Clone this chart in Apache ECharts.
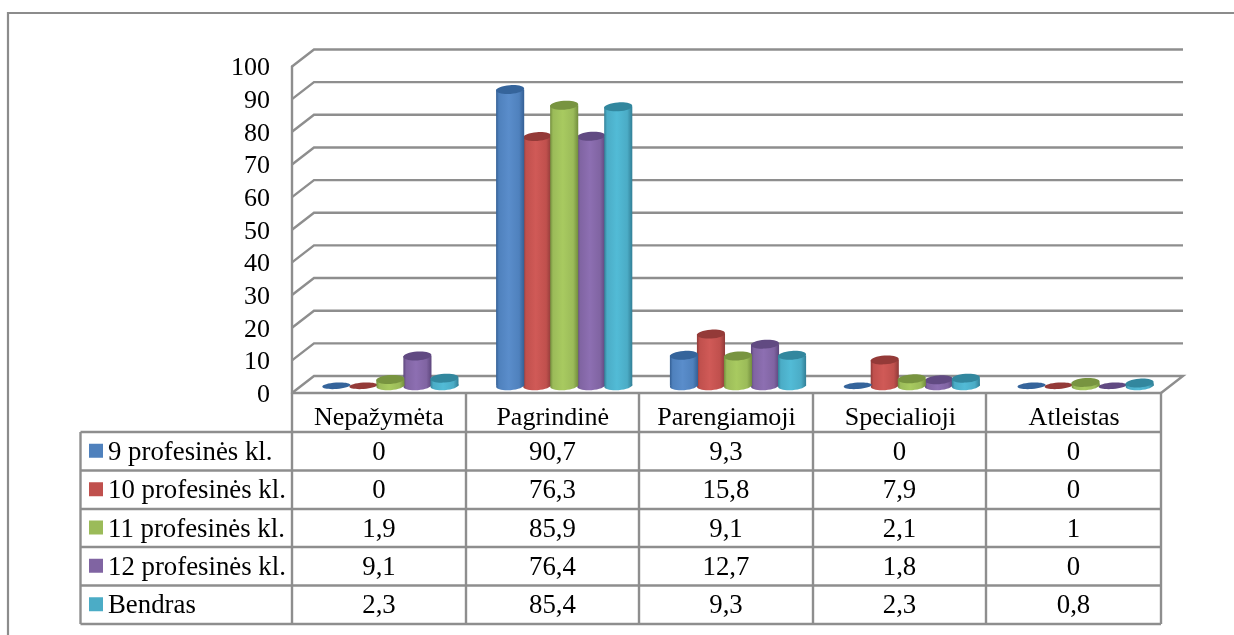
<!DOCTYPE html>
<html><head><meta charset="utf-8">
<style>html,body{margin:0;padding:0;background:#fff}#c{width:1234px;height:635px}</style>
<script src="https://cdn.jsdelivr.net/npm/echarts@6/dist/echarts.min.js"></script>
</head><body><div id="c"></div>
<script>
const categories = ['Nepažymėta','Pagrindinė','Parengiamoji','Specialioji','Atleistas'];
const seriesNames = ['9 profesinės kl.','10 profesinės kl.','11 profesinės kl.','12 profesinės kl.','Bendras'];
const values9 = [0,90.7,9.3,0,0];
const values10 = [0,76.3,15.8,7.9,0];
const values11 = [1.9,85.9,9.1,2.1,1];
const values12 = [9.1,76.4,12.7,1.8,0];
const valuesAll = [2.3,85.4,9.3,2.3,0.8];
const yTicks = [0,10,20,30,40,50,60,70,80,90,100];
const seriesValues = [values9,values10,values11,values12,valuesAll];
const baseColors = ['#4F81BD','#C0504D','#9BBB59','#8064A2','#4BACC6'];
const lightColors = ['#5A8DCB','#D05A57','#A8CA60','#8D6FB2','#52BBD6'];
const darkColors = ['#345F94','#8F3A38','#728D3D','#5D467C','#327F96'];
const topColors = ['#35649B','#943A38','#789440','#614A82','#32879E'];
const drawOrder = [1,3,0,2,4];

const FONT = '"Liberation Serif","Times New Roman",serif';
const GRID_COLOR = '#8E8E8E';
const DX = 22, DY = -17;
const colX = [80.5,292,466,639,813,986,1161];
const rowY = [393,432,470.5,509,547,585.5,624];

function wallItem(params, api){
  const v = api.value(0);
  const cs = params.coordSys;
  const y = api.coord([0,v])[1];
  const x0 = cs.x, x1 = cs.x + cs.width;
  const pts = [[x0,y],[x0+DX,y+DY],[x1+DX,y+DY]];
  if (v === 0) pts.push([x1,y]);
  return {type:'polyline',silent:true,shape:{points:pts},
    style:{stroke:GRID_COLOR,lineWidth:2.4,fill:null}};
}
function cylinderItem(s){
  return function(params, api){
    const cat = api.value(0), val = api.value(1);
    const band = api.size([1,0])[0];
    const unit = band*0.1555;
    const w = unit*1.04;
    const base = api.coord([cat,0]);
    const top = api.coord([cat,val]);
    const cx = base[0] + (s-2)*unit + DX/2 + 0.5;
    const by = base[1] + DY/2 + 1.3;
    const ty = top[1] + DY/2 + 1.2;
    const rot = 0.07;
    const children = [];
    if (val === 0){
      children.push({type:'ellipse',x:cx,y:by,rotation:rot,shape:{cx:0,cy:0,rx:w/2,ry:3.2},style:{fill:topColors[s]}});
      return {type:'group',children};
    }
    const grad = {type:'linear',x:0,y:0,x2:1,y2:0,colorStops:[
      {offset:0,color:darkColors[s]},{offset:0.1,color:baseColors[s]},
      {offset:0.45,color:lightColors[s]},{offset:0.82,color:baseColors[s]},{offset:1,color:darkColors[s]}]};
    children.push({type:'ellipse',x:cx,y:by,rotation:rot,shape:{cx:0,cy:0,rx:w/2,ry:4.4},style:{fill:grad}});
    children.push({type:'rect',shape:{x:cx-w/2,y:ty,width:w,height:by-ty},style:{fill:grad}});
    children.push({type:'ellipse',x:cx,y:ty,rotation:rot,shape:{cx:0,cy:0,rx:w/2,ry:4.4},style:{fill:topColors[s]}});
    return {type:'group',children};
  };
}

const graphics = [];
const line = (x1,y1,x2,y2)=>graphics.push({type:'line',silent:true,shape:{x1,y1,x2,y2},style:{stroke:GRID_COLOR,lineWidth:2.4},z:1});
graphics.push({type:'polyline',silent:true,shape:{points:[[8,635],[8,13],[1234,13]]},style:{stroke:'#8C8C8C',lineWidth:2.2,fill:null}});
rowY.slice(1).forEach(y=>line(colX[0],y,colX[6],y));
colX.slice(1).forEach(x=>line(x,rowY[0],x,rowY[6]));
line(colX[0],rowY[1],colX[0],rowY[6]);
seriesNames.forEach((name,r)=>{
  const cy = (rowY[r+1]+rowY[r+2])/2;
  graphics.push({type:'rect',silent:true,shape:{x:89,y:cy-7.5,width:14,height:14},style:{fill:baseColors[r]},z:2});
  graphics.push({type:'text',silent:true,x:108,y:cy+1.5,style:{text:name,font:'26.8px '+FONT,fill:'#000',textAlign:'left',textVerticalAlign:'middle'},z:2});
  seriesValues[r].forEach((v,c)=>{
    graphics.push({type:'text',silent:true,x:(colX[c+1]+colX[c+2])/2,y:cy+1.5,
      style:{text:String(v).replace('.',','),font:'26.8px '+FONT,fill:'#000',textAlign:'center',textVerticalAlign:'middle'},z:2});
  });
});

const series = [{type:'custom',coordinateSystem:'cartesian2d',renderItem:wallItem,clip:false,silent:true,z:1,
  encode:{y:0},data:yTicks.map(v=>[v])}];
drawOrder.forEach((s,i)=>{
  series.push({type:'custom',name:seriesNames[s],coordinateSystem:'cartesian2d',renderItem:cylinderItem(s),clip:false,z:3+i,
    encode:{x:0,y:1},data:seriesValues[s].map((v,c)=>[c,v])});
});

const chart = echarts.init(document.getElementById('c'),null,{renderer:'canvas'});
chart.setOption({
  animation:false,
  backgroundColor:'#fff',
  grid:{left:292,top:66.5,width:869,height:326.5,containLabel:false},
  xAxis:{type:'category',data:categories,axisTick:{show:false},
    axisLine:{show:true,lineStyle:{color:GRID_COLOR,width:2.4}},
    axisLabel:{interval:0,color:'#000',fontFamily:FONT,fontSize:26,margin:12.5},splitLine:{show:false}},
  yAxis:{type:'value',min:0,max:100,interval:10,
    axisLine:{show:true,lineStyle:{color:GRID_COLOR,width:2.4}},axisTick:{show:false},
    axisLabel:{margin:22,formatter:'{a|{value}}',
      rich:{a:{color:'#000',fontFamily:FONT,fontSize:26,padding:[4,0,0,0]}}},splitLine:{show:false}},
  graphic:{elements:graphics},
  series
});
</script></body></html>
